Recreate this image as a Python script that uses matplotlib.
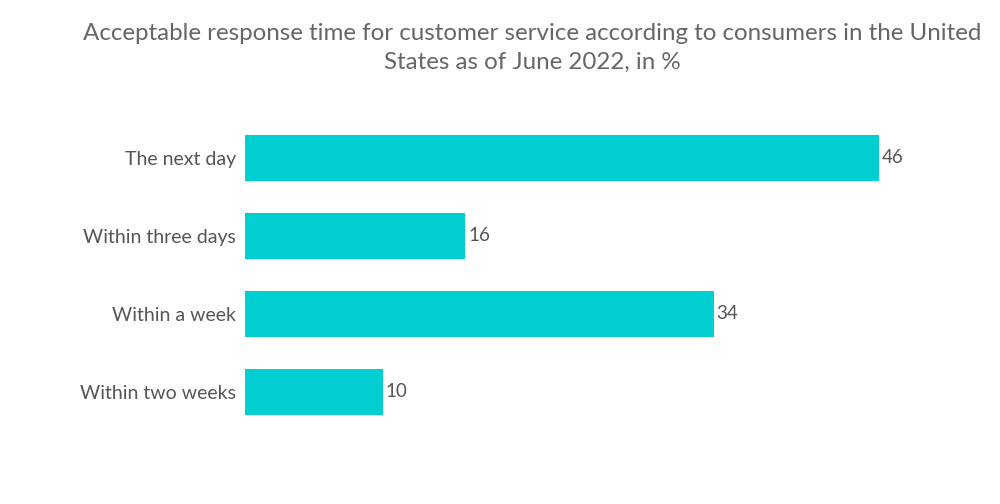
import matplotlib
matplotlib.use('Agg')
import matplotlib.pyplot as plt

categories = ['The next day', 'Within three days', 'Within a week', 'Within two weeks']
shares = [46, 16, 34, 10]

title = ('Acceptable response time for customer service according to consumers in the United\n'
         'States as of June 2022, in %')

plt.rcParams['font.family'] = ['Lato', 'DejaVu Sans']

fig = plt.figure(figsize=(10, 5.04), dpi=100)
ax = fig.add_axes([0.245, 0.145, 0.689, 0.619])

y_pos = list(range(len(categories)))
ax.barh(y_pos, shares, height=0.59, color='#00CED1')
for y, v in zip(y_pos, shares):
    ax.text(v + 0.2, y, str(v), va='center', ha='left', fontsize=13.5, color='#555555')

ax.set_xlim(0, 50)
ax.set_ylim(3.5, -0.5)
ax.set_yticks(y_pos)
ax.set_yticklabels(categories, fontsize=14, color='#555555')
ax.tick_params(axis='y', length=0, pad=6.5)
ax.set_xticks([])
for s in ax.spines.values():
    s.set_visible(False)

fig.text(0.532, 0.955, title, ha='center', va='top', fontsize=17.4, color='#666666',
         linespacing=1.5)

fig.savefig('out.png', dpi=100)
